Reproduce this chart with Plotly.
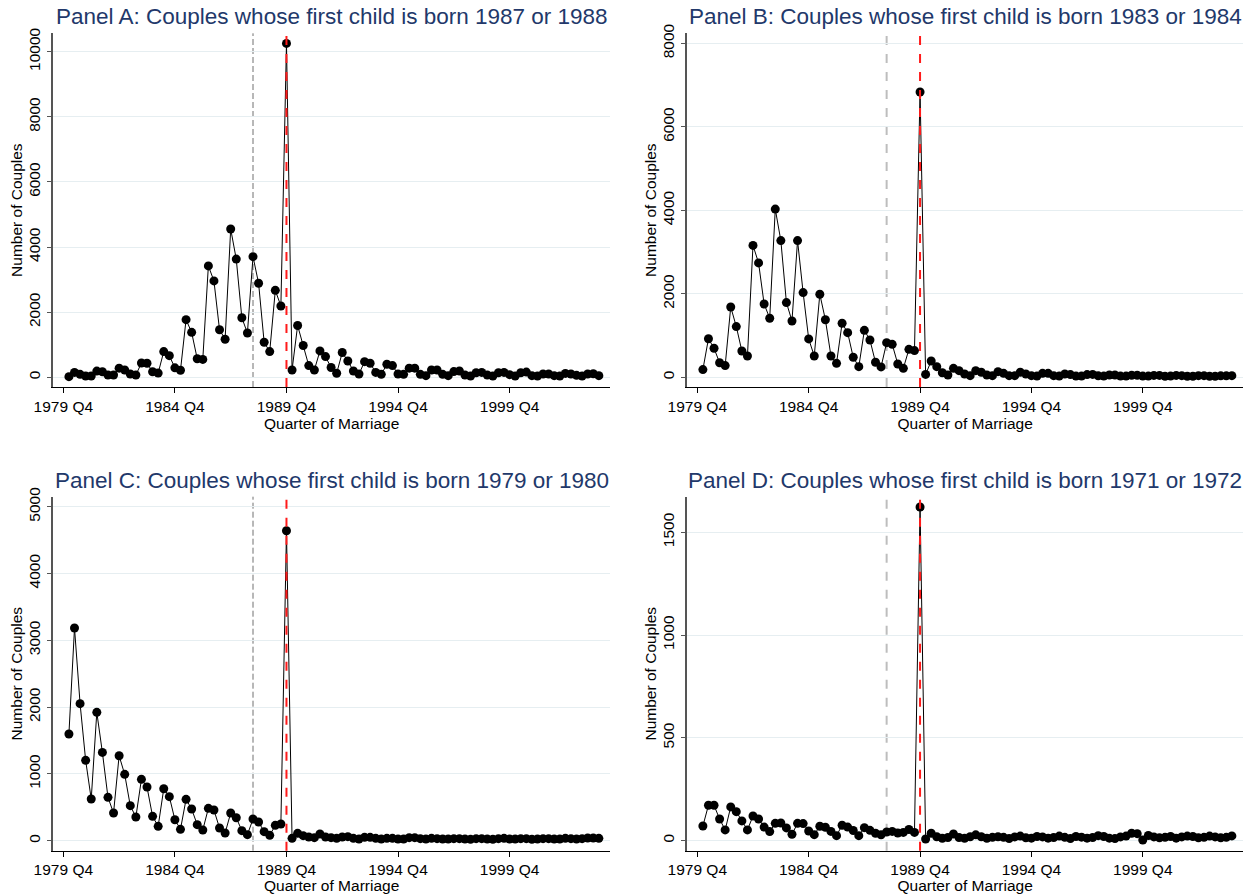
import plotly.graph_objects as go

# Quarter index: 0 = 1979 Q4, 1 = 1980 Q1, ... 96 = 2003 Q4
quarters = list(range(1, 97))
tick_vals = [0, 20, 40, 60, 80]
tick_text = ["1979 Q4", "1984 Q4", "1989 Q4", "1994 Q4", "1999 Q4"]
reform_quarter = 40      # 1989 Q4 (red line)
announce_quarter = 34    # 1988 Q2 (gray line)

panel_a = [20, 150, 90, 40, 40, 190, 170, 70, 70, 280,
           225, 100, 70, 440, 430, 170, 130, 790, 665, 290,
           215, 1770, 1380, 570, 550, 3420, 2960, 1460, 1170, 4555,
           3630, 1830, 1360, 3705, 2890, 1075, 790, 2670, 2190, 10255,
           225, 1590, 975, 360, 225, 810, 635, 300, 125, 760,
           500, 195, 100, 480, 430, 150, 90, 400, 360, 100,
           90, 280, 280, 90, 50, 225, 225, 90, 50, 175,
           195, 70, 40, 140, 150, 70, 40, 140, 150, 80,
           40, 140, 160, 50, 40, 100, 100, 50, 40, 120,
           100, 60, 40, 100, 110, 50]

panel_b = [185, 925, 695, 350, 280, 1685, 1215, 630, 510, 3160,
           2740, 1755, 1415, 4030, 3275, 1790, 1350, 3275, 2030, 920,
           510, 1990, 1380, 510, 335, 1295, 1070, 480, 255, 1125,
           895, 360, 250, 830, 790, 320, 215, 670, 640, 6835,
           70, 390, 255, 110, 55, 215, 160, 80, 40, 160,
           120, 55, 40, 135, 95, 40, 40, 120, 80, 40,
           30, 95, 95, 40, 30, 80, 65, 30, 30, 65,
           70, 35, 30, 55, 55, 30, 30, 50, 50, 30,
           30, 45, 45, 25, 30, 45, 40, 25, 25, 40,
           40, 25, 25, 35, 35, 40]

panel_c = [1597, 3184, 2051, 1203, 624, 1921, 1322, 649, 414, 1272,
           993, 524, 354, 918, 803, 364, 215, 778, 659, 314,
           170, 619, 474, 240, 160, 484, 459, 190, 115, 414,
           344, 150, 90, 324, 279, 135, 80, 230, 250, 4641,
           35, 110, 75, 55, 45, 100, 55, 45, 35, 55,
           60, 35, 25, 50, 50, 35, 25, 35, 35, 25,
           25, 45, 45, 30, 25, 35, 30, 25, 25, 30,
           30, 25, 20, 30, 30, 25, 20, 30, 35, 25,
           25, 30, 30, 20, 25, 30, 30, 25, 25, 35,
           30, 25, 30, 40, 40, 35]

panel_d = [71, 172, 172, 105, 52, 164, 141, 96, 52, 120,
           105, 66, 44, 84, 86, 62, 31, 84, 83, 47,
           29, 70, 65, 45, 24, 75, 66, 49, 24, 63,
           50, 36, 28, 42, 45, 37, 40, 54, 40, 1623,
           8, 36, 19, 11, 15, 32, 15, 11, 19, 28,
           19, 11, 16, 19, 16, 10, 18, 22, 14, 12,
           20, 18, 12, 15, 22, 16, 10, 20, 17, 12,
           15, 24, 20, 12, 10, 18, 22, 36, 34, 3,
           25, 18, 14, 16, 20, 12, 18, 22, 20, 14,
           16, 22, 18, 14, 16, 23]

titles = ["Panel A: Couples whose first child is born 1987 or 1988",
          "Panel B: Couples whose first child is born 1983 or 1984",
          "Panel C: Couples whose first child is born 1979 or 1980",
          "Panel D: Couples whose first child is born 1971 or 1972"]

series = [panel_a, panel_b, panel_c, panel_d]
y_ranges = [[-298, 10565], [-232, 8240], [-150, 5150], [-49, 1673]]
y_dticks = [2000, 2000, 1000, 500]

W, H = 1247, 894
left_x = [53.3, 610.0]
right_x = [687.3, 1243.0]
top_y = [33.3, 387.0]
bot_y = [496.7, 850.7]
boxes = [(left_x, top_y), (right_x, top_y), (left_x, bot_y), (right_x, bot_y)]
title_y = [17, 17, 480, 480]
gray_styles = [dict(color="#707070", width=1, dash="6px,3px"),
               dict(color="#bdbdbd", width=2, dash="dash"),
               dict(color="#707070", width=1, dash="6px,3px"),
               dict(color="#bdbdbd", width=2, dash="dash")]

fig = go.Figure()
layout = dict(width=W, height=H, autosize=False,
              margin=dict(l=0, r=0, t=0, b=0),
              paper_bgcolor="white", plot_bgcolor="white",
              showlegend=False,
              font=dict(family="Liberation Sans, Arial, sans-serif", color="black"))
shapes = []
annotations = []

for i, (vals, (xs, ys)) in enumerate(zip(series, boxes)):
    n = "" if i == 0 else str(i + 1)
    xa, ya = "x" + n, "y" + n
    fig.add_trace(go.Scatter(
        x=quarters, y=vals, mode="lines+markers",
        line=dict(color="black", width=1),
        marker=dict(color="black", size=9),
        xaxis=xa, yaxis=ya, cliponaxis=False))
    layout["xaxis" + n] = dict(
        domain=[xs[0] / W, xs[1] / W], anchor=ya, automargin=False,
        range=[-1.8, 98.0], tickvals=tick_vals, ticktext=tick_text,
        showgrid=False, zeroline=False, showline=True, linecolor="black",
        linewidth=1, ticks="outside", ticklen=5, tickcolor="black",
        tickfont=dict(size=15.5),
        title=dict(text="Quarter of Marriage", font=dict(size=15.5), standoff=0))
    layout["yaxis" + n] = dict(
        domain=[1 - ys[1] / H, 1 - ys[0] / H], anchor=xa, automargin=False,
        range=y_ranges[i], dtick=y_dticks[i], tick0=0, tickformat="d",
        showgrid=True, gridcolor="#e6eef1", gridwidth=1,
        zeroline=False, showline=True, linecolor="#555555", linewidth=1.5,
        ticks="outside", ticklen=5, tickcolor="#555555",
        tickangle=-90, tickfont=dict(size=15.5),
        title=dict(text="Number of Couples", font=dict(size=15.5), standoff=0))
    shapes.append(dict(type="line", xref=xa, yref=ya + " domain",
                       x0=announce_quarter, x1=announce_quarter, y0=0, y1=1,
                       line=gray_styles[i], layer="below"))
    shapes.append(dict(type="line", xref=xa, yref=ya + " domain",
                       x0=reform_quarter, x1=reform_quarter, y0=0, y1=1,
                       line=dict(color="#ff1a1a", width=2, dash="dash"), layer="above"))
    annotations.append(dict(text=titles[i], xref="paper", yref="paper",
                            x=(xs[0] + xs[1]) / 2 / W, y=1 - title_y[i] / H,
                            xanchor="center", yanchor="middle", showarrow=False,
                            font=dict(size=22.5, color="#22386a")))

layout["shapes"] = shapes
layout["annotations"] = annotations
fig.update_layout(**layout)
fig.write_html("out.html")
